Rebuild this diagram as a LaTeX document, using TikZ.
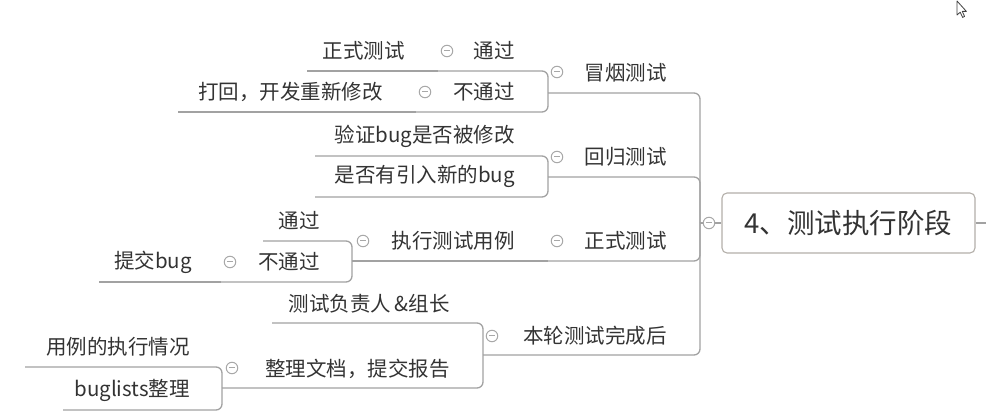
\documentclass[tikz,border=0pt]{standalone}
\usepackage{fontspec}
\setmainfont{Noto Sans CJK SC}
\usetikzlibrary{calc}
\definecolor{linegray}{HTML}{A2A2A2}
\definecolor{textgray}{HTML}{333333}
\definecolor{boxgray}{HTML}{B3AFA9}
\definecolor{markgray}{HTML}{A8A8A8}
\begin{document}
\begin{tikzpicture}[x=1pt,y=-1pt,
  topic/.style={anchor=east,inner sep=0pt,text=textgray,font=\fontsize{20.5}{24}\selectfont},
  link/.style={draw=linegray,line width=1.3pt,rounded corners=6pt},
  fold/.style={circle,draw=markgray,fill=white,line width=1pt,minimum size=11.5pt,inner sep=0pt,
    path picture={\draw[markgray,line width=1pt]
      ([xshift=-3pt]path picture bounding box.center) -- ([xshift=3pt]path picture bounding box.center);}},
  rootbox/.style={draw=boxgray,line width=1.1pt,rounded corners=5pt,fill=white,
    minimum width=253pt,minimum height=60pt,inner sep=0pt,
    font=\fontsize{27.5}{32}\selectfont,text=textgray}]
\useasboundingbox (0,0) rectangle (986,419);

% ---------- junction points of the logic chart ----------
\coordinate (rj)    at (700,223);
\coordinate (rout)  at (986,223);
\coordinate (jA)    at (548,93);
\coordinate (jB)    at (548,177);
\coordinate (jC)    at (548,261);
\coordinate (jD)    at (483,355);
\coordinate (jA1)   at (438,71);
\coordinate (jA2)   at (416,112);
\coordinate (sA1a)  at (307,71);
\coordinate (sA2a)  at (178,112);
\coordinate (sB1)   at (315,156);
\coordinate (sB2)   at (315,197);
\coordinate (jC1)   at (352,261);
\coordinate (sC1a)  at (263,241);
\coordinate (jC1b)  at (221,282);
\coordinate (sC1b1) at (99,282);
\coordinate (sD1)   at (272,323);
\coordinate (jD2)   at (222,388);
\coordinate (sD2a)  at (25,367);
\coordinate (sD2b)  at (63,410);

% ---------- central topic ----------
\node[rootbox] (root) at (848.5,223) {4、测试执行阶段};

% ---------- connectors ----------
\draw[link] (root.east) -- (rout);
\draw[link] (rj) -- (root.west);
\foreach \j in {jA,jB,jC,jD}
  \draw[link] (\j) -- (\j -| rj) -- (rj);

\draw[link] (jA1) -- (jA1 -| jA) -- (jA);
\draw[link] (jA2) -- (jA2 -| jA) -- (jA);
\draw[link] (sA1a) -- (jA1);
\draw[link] (sA2a) -- (jA2);

\draw[link] (sB1) -- (sB1 -| jB) -- (jB);
\draw[link] (sB2) -- (sB2 -| jB) -- (jB);

\draw[link] (jC1) -- (jC);
\draw[link] (sC1a) -- (sC1a -| jC1) -- (jC1);
\draw[link] (jC1b) -- (jC1b -| jC1) -- (jC1);
\draw[link] (sC1b1) -- (jC1b);

\draw[link] (sD1) -- (sD1 -| jD) -- (jD);
\draw[link] (jD2) -- (jD2 -| jD) -- (jD);
\draw[link] (sD2a) -- (sD2a -| jD2) -- (jD2);
\draw[link] (sD2b) -- (sD2b -| jD2) -- (jD2);

% ---------- collapse markers ----------
\node[fold] (fRoot) at (709,223) {};
\node[fold] (fA)  at (557,72)  {};
\node[fold] (fB)  at (557,157) {};
\node[fold] (fC)  at (557,241) {};
\node[fold] (fD)  at (492,336) {};
\node[fold] (fA1) at (447,51)  {};
\node[fold] (fA2) at (425,92)  {};
\node[fold] (fC1) at (363,241) {};
\node[fold] (fC1b) at (230,262) {};
\node[fold] (fD2) at (232,368) {};

% ---------- topics ----------
\node[topic] (A)    at (667,73)  {冒烟测试};
\node[topic] (B)    at (667,157) {回归测试};
\node[topic] (C)    at (667,241) {正式测试};
\node[topic] (D)    at (667,336) {本轮测试完成后};

\node[topic] (A1)   at (515,51)  {通过};
\node[topic] (A1a)  at (405,51)  {正式测试};
\node[topic] (A2)   at (515,92)  {不通过};
\node[topic] (A2a)  at (383,92)  {打回，开发重新修改};

\node[topic] (B1)   at (515,136) {验证bug是否被修改};
\node[topic] (B2)   at (515,176) {是否有引入新的bug};

\node[topic] (C1)   at (515,241) {执行测试用例};
\node[topic] (C1a)  at (320,221) {通过};
\node[topic] (C1b)  at (320,262) {不通过};
\node[topic] (C1b1) at (192,262) {提交bug};

\node[topic] (D1)   at (450,304) {测试负责人\,\&组长};
\node[topic] (D2)   at (450,369) {整理文档，提交报告};
\node[topic] (D2a)  at (190,347) {用例的执行情况};
\node[topic] (D2b)  at (190,390) {buglists整理};

% ---------- mouse pointer ----------
\draw[line width=0.8pt,draw=black!75,fill=white,line join=round]
  (957,1) -- (957,15) -- (960.2,12.2) -- (962.6,17.4) -- (964.6,16.5) -- (962.3,11.4) -- (966.4,11.4) -- cycle;
\end{tikzpicture}
\end{document}
